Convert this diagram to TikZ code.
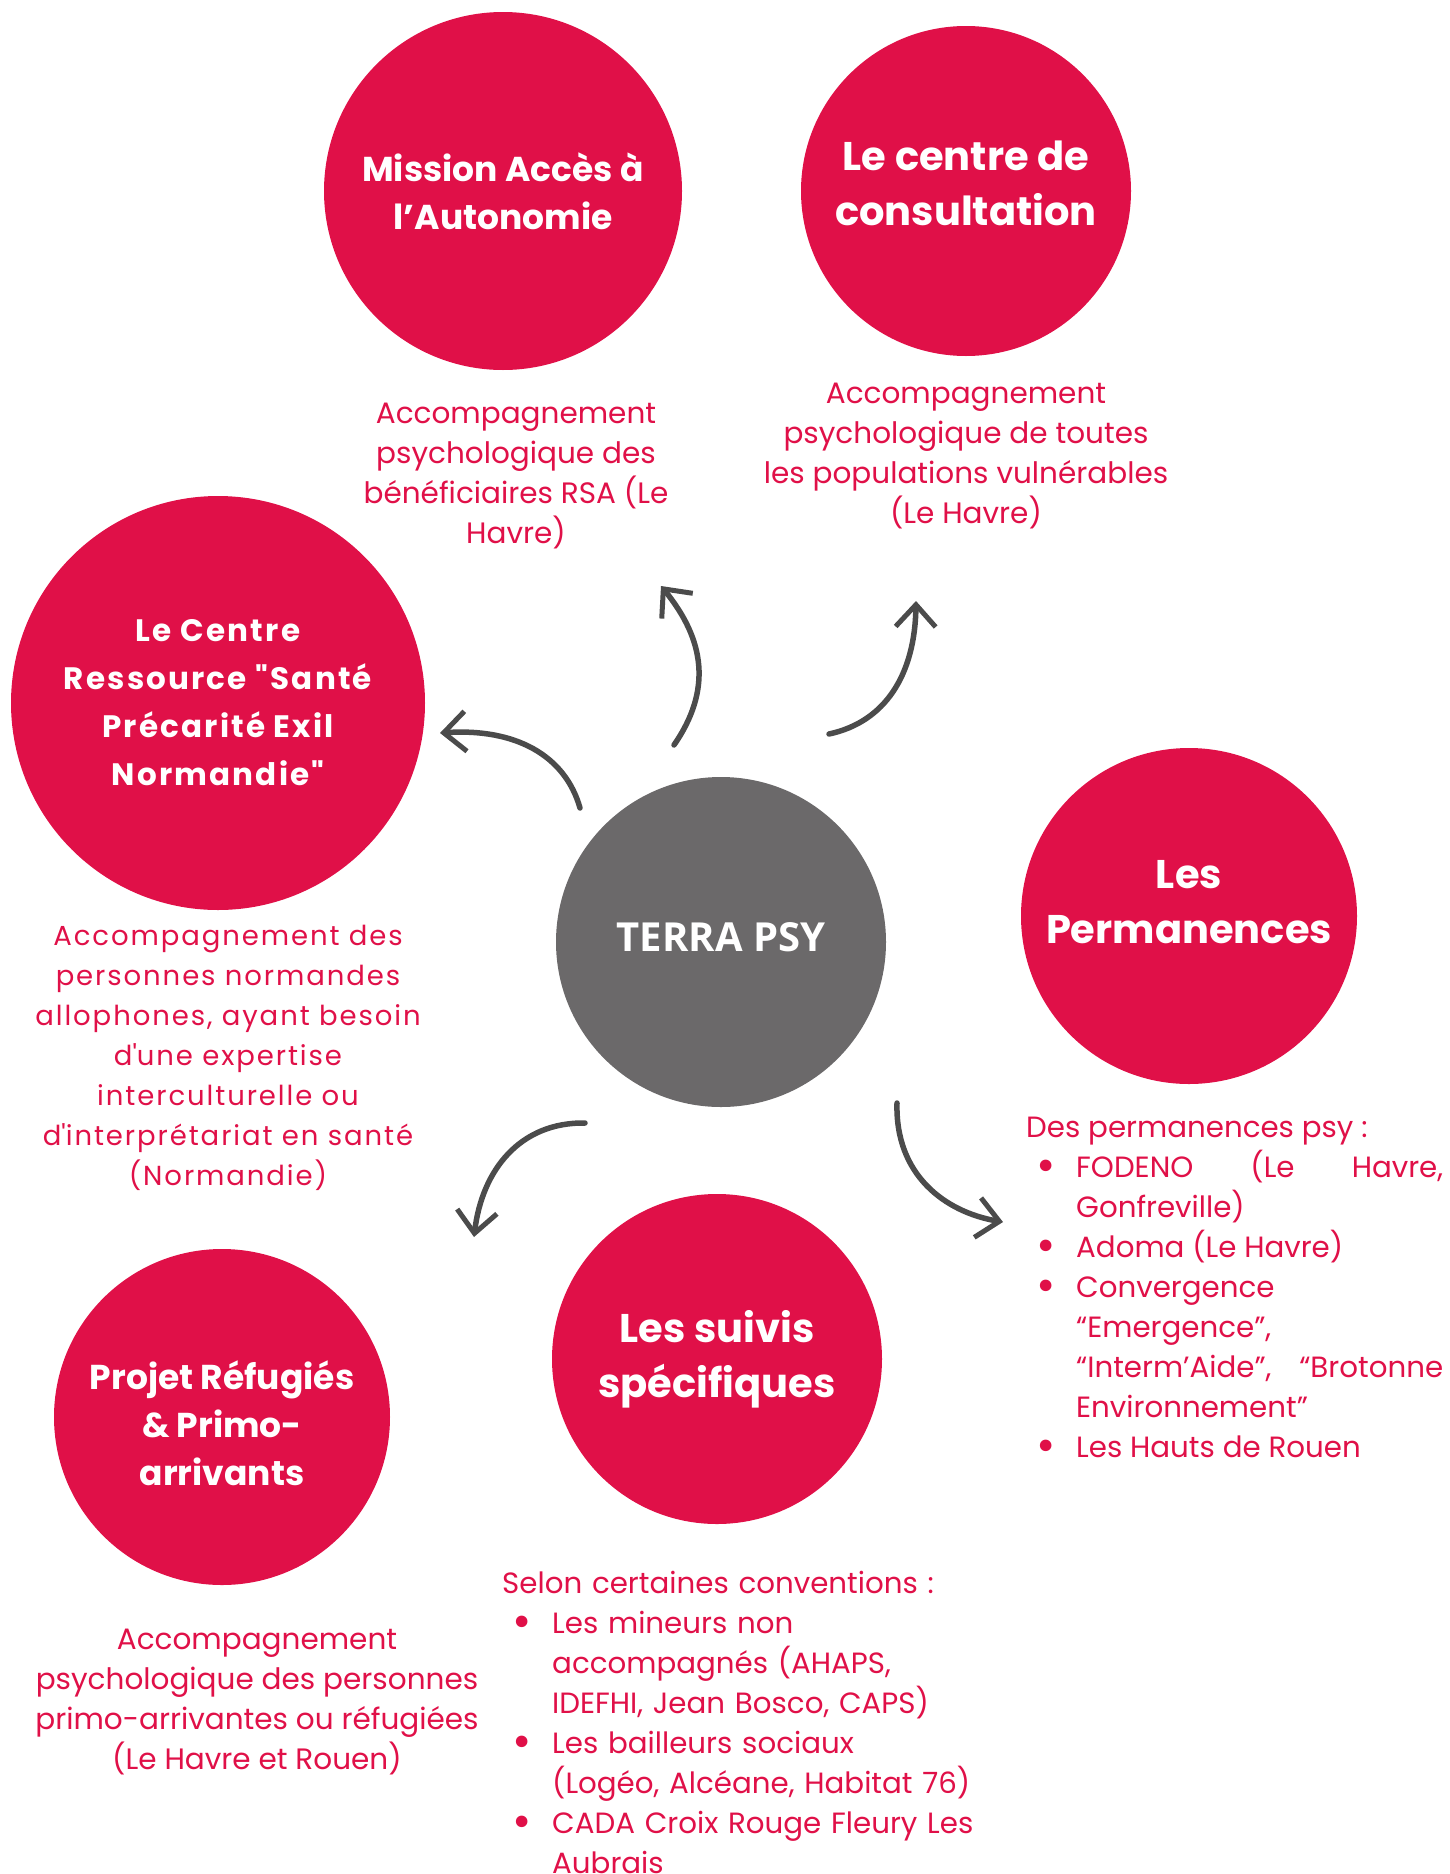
\documentclass[tikz,border=0pt]{standalone}
\usepackage{fontspec}
\setmainfont{Poppins}
\newfontfamily\widefont{Poppins}[LetterSpace=7]
\newfontfamily\hubfont{Open Sans}
\usepackage{enumitem}
\usetikzlibrary{arrows.meta,positioning}

\definecolor{terracrimson}{HTML}{E01048}
\definecolor{terragray}{HTML}{6B696A}
\definecolor{arrowgray}{HTML}{4B4B4B}

% invisible struts to nudge a title up (depth) or down (height)
\newcommand{\nudgeup}[1]{\rule[-#1]{0pt}{#1}}
\newcommand{\nudgedown}[1]{\rule{0pt}{#1}}

\tikzset{
  bubble/.style={circle,fill=terracrimson,text=white,inner sep=0pt,align=center,
    font=\bfseries\fontsize{34.5}{48}\selectfont},
  bigbubble/.style={bubble,font=\bfseries\fontsize{40}{55}\selectfont},
  hub/.style={circle,fill=terragray,text=white,inner sep=0pt,
    font=\hubfont\bfseries\fontsize{40}{46}\selectfont},
  desc/.style={text=terracrimson,align=center,inner sep=0pt,
    font=\fontsize{29.5}{40}\selectfont},
  listbox/.style={text=terracrimson,inner sep=0pt,anchor=north west,
    font=\fontsize{29.3}{40}\selectfont},
  arr/.style={draw=arrowgray,line width=5.5pt,line cap=round,
    -{Straight Barb[length=22pt,width=40pt,line width=5pt]}}
}
\setlist[itemize]{label=\raisebox{-4pt}{\scalebox{1.6}{\textbullet}},leftmargin=50pt,
  labelsep=20pt,topsep=0pt,itemsep=0pt,parsep=0pt,partopsep=0pt}

\begin{document}
\begin{tikzpicture}[x=1pt,y=-1pt]
\useasboundingbox (0,0) rectangle (1450,1874);

% hub
\node[hub,minimum size=330pt] (terra) at (721,942) {TERRA PSY\nudgeup{10pt}};

% bubbles
\node[bubble,minimum size=358pt] (mission) at (503,191) {Mission Accès à\\l’Autonomie};
\node[bigbubble,minimum size=330pt] (consult) at (966,191) {Le centre de\\consultation\nudgeup{16pt}};
\node[bubble,minimum size=414pt,font=\widefont\bfseries\fontsize{31}{48}\selectfont]
  (ressource) at (218,703) {Le Centre\\Ressource "Santé\\Précarité Exil\\Normandie"};
\node[bigbubble,minimum size=336pt] (perm) at (1189,916) {Les\\Permanences\nudgeup{28pt}};
\node[bigbubble,minimum size=330pt] (suivis) at (717,1359) {Les suivis\\spécifiques};
\node[bubble,minimum size=336pt] (projet) at (222,1417) {\nudgedown{42pt}Projet Réfugiés\\\& Primo-\\arrivants};

% descriptions
\node[desc] (missiondesc) at (516,476)
  {Accompagnement\\psychologique des\\bénéficiaires RSA (Le\\Havre)};
\node[desc] (consultdesc) at (966,456)
  {Accompagnement\\psychologique de toutes\\les populations vulnérables\\(Le Havre)};
\node[desc,font=\widefont\fontsize{27.5}{40}\selectfont] (ressourcedesc) at (228,1058)
  {Accompagnement des\\personnes normandes\\allophones, ayant besoin\\d\textquotesingle une expertise\\interculturelle ou\\d\textquotesingle interprétariat en santé\\(Normandie)};
\node[desc] (projetdesc) at (257,1702)
  {Accompagnement\\psychologique des personnes\\primo-arrivantes ou réfugiées\\(Le Havre et Rouen)};

\node[listbox,text width=417pt,align=justify] (permlist) at (1026,1117) {%
  Des permanences psy :
  \begin{itemize}
    \item FODENO (Le Havre,\linebreak Gonfreville)
    \item Adoma (Le Havre)
    \item Convergence\newline “Emergence”,\newline “Interm’Aide”, “Brotonne\linebreak Environnement”
    \item Les Hauts de Rouen
  \end{itemize}};
\node[listbox,text width=480pt,align=left] (suivislist) at (502,1571) {%
  Selon certaines conventions :
  \begin{itemize}
    \item Les mineurs non\\accompagnés (AHAPS,\\IDEFHI, Jean Bosco, CAPS)
    \item Les bailleurs sociaux\\(Logéo, Alcéane, Habitat 76)
    \item CADA Croix Rouge Fleury Les\\Aubrais
  \end{itemize}};

% arrows
\coordinate (a1s) at (674,745);  \coordinate (a1e) at (661,586);
\coordinate (a2s) at (829,734);  \coordinate (a2e) at (916,601);
\coordinate (a3s) at (580,808);  \coordinate (a3e) at (440,733);
\coordinate (a4s) at (585,1123); \coordinate (a4e) at (474,1237);
\coordinate (a5s) at (897,1103); \coordinate (a5e) at (1003,1222);
\draw[arr] (a1s) .. controls (712,690) and (705,640) .. (a1e);
\draw[arr] (a2s) .. controls (885,722) and (915,675) .. (a2e);
\draw[arr] (a3s) .. controls (565,755) and (515,728) .. (a3e);
\draw[arr] (a4s) .. controls (520,1122) and (482,1170) .. (a4e);
\draw[arr] (a5s) .. controls (895,1175) and (945,1212) .. (a5e);
\end{tikzpicture}
\end{document}
